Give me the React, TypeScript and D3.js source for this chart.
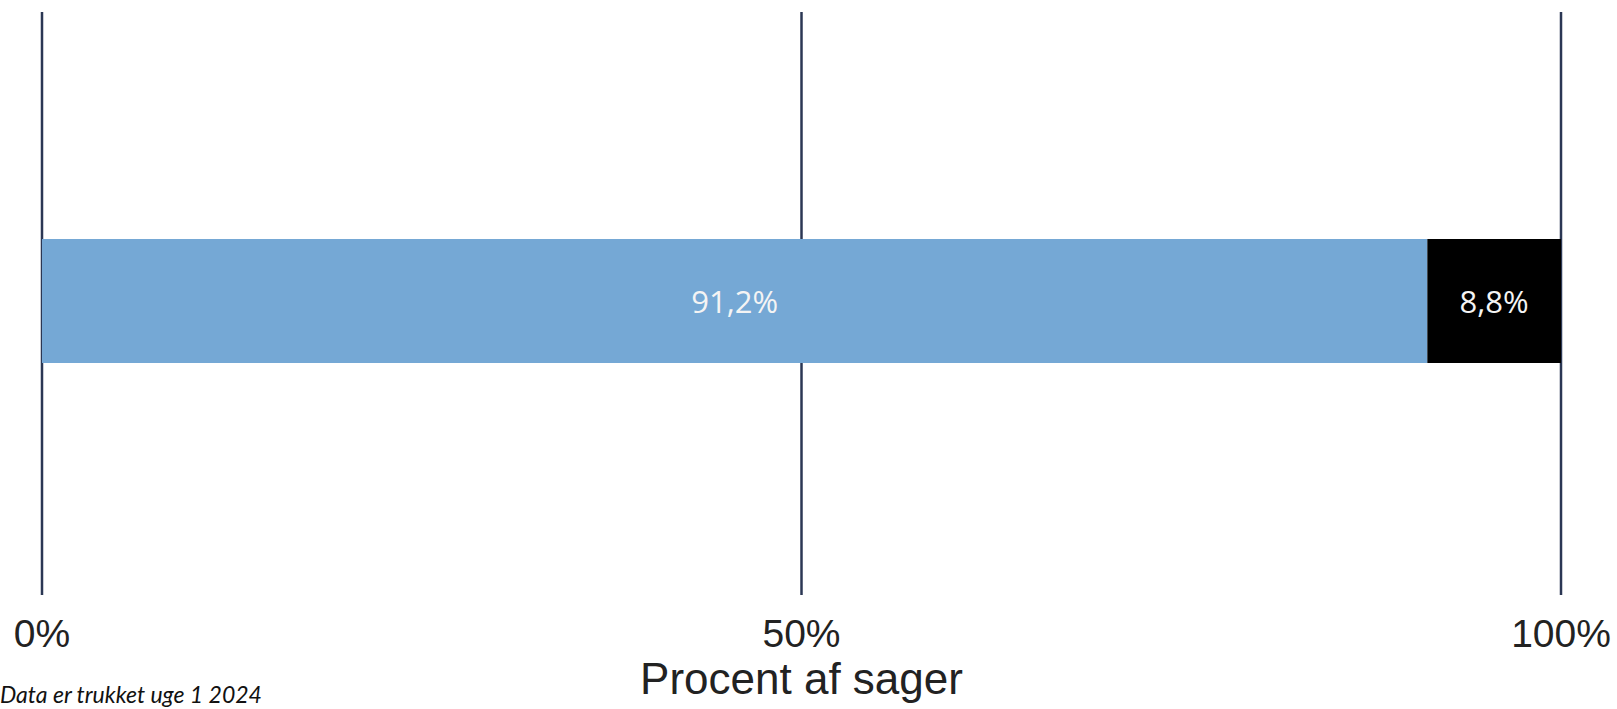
import React, { useEffect, useRef } from 'react';
import * as d3 from 'd3';

const categories = ['Andel A', 'Andel B'];
const values = [91.2, 8.8];
const colors = ['#75a8d5', '#000000'];
const valueLabels = ['91,2%', '8,8%'];
const ticks = [0, 50, 100];
const tickLabels = ['0%', '50%', '100%'];
const axisTitle = 'Procent af sager';
const caption = 'Data er trukket uge 1 2024';

const W = 1617;
const H = 709;

const App: React.FC = () => {
  const svgRef = useRef<SVGSVGElement>(null);

  useEffect(() => {
    if (!svgRef.current) return;
    const svg = d3.select(svgRef.current);
    svg.selectAll('*').remove();

    const x = d3.scaleLinear().domain([0, 100]).range([42, 1561]);

    // grid lines
    svg
      .selectAll('line.grid')
      .data(ticks)
      .enter()
      .append('line')
      .attr('class', 'grid')
      .attr('x1', d => x(d))
      .attr('x2', d => x(d))
      .attr('y1', 12)
      .attr('y2', 595)
      .attr('stroke', '#2b3754')
      .attr('stroke-width', 2.5);

    // stacked segments
    const starts = values.map((_, i) => d3.sum(values.slice(0, i)));
    const barY = 239;
    const barH = 124;

    svg
      .selectAll('rect.seg')
      .data(categories)
      .enter()
      .append('rect')
      .attr('class', 'seg')
      .attr('x', (_, i) => x(starts[i]))
      .attr('width', (_, i) => x(starts[i] + values[i]) - x(starts[i]))
      .attr('y', barY)
      .attr('height', barH)
      .attr('fill', (_, i) => colors[i]);

    svg
      .selectAll('text.val')
      .data(categories)
      .enter()
      .append('text')
      .attr('class', 'val')
      .attr('x', (_, i) => x(starts[i] + values[i] / 2))
      .attr('y', barY + barH / 2 + 12)
      .attr('text-anchor', 'middle')
      .attr('font-family', '"Open Sans", sans-serif')
      .attr('font-size', '31px')
      .attr('fill', '#f4f4f4')
      .text((_, i) => valueLabels[i]);

    // tick labels
    svg
      .selectAll('text.tick')
      .data(ticks)
      .enter()
      .append('text')
      .attr('class', 'tick')
      .attr('x', d => x(d))
      .attr('y', 647)
      .attr('text-anchor', 'middle')
      .attr('font-family', '"Liberation Sans", Arial, sans-serif')
      .attr('font-size', '39px')
      .attr('fill', '#222')
      .text((_, i) => tickLabels[i]);

    svg
      .append('text')
      .attr('x', x(50))
      .attr('y', 694)
      .attr('text-anchor', 'middle')
      .attr('font-family', '"Liberation Sans", Arial, sans-serif')
      .attr('font-size', '44px')
      .attr('fill', '#222')
      .text(axisTitle);

    svg
      .append('text')
      .attr('x', 0)
      .attr('y', 703)
      .attr('font-family', 'Lato, sans-serif')
      .attr('font-style', 'italic')
      .attr('font-size', '23px')
      .attr('fill', '#111')
      .text(caption);
  }, []);

  return (
    <svg
      ref={svgRef}
      width={W}
      height={H}
      style={{ position: 'absolute', left: 0, top: 0, background: '#fff' }}
    />
  );
};

export default App;
